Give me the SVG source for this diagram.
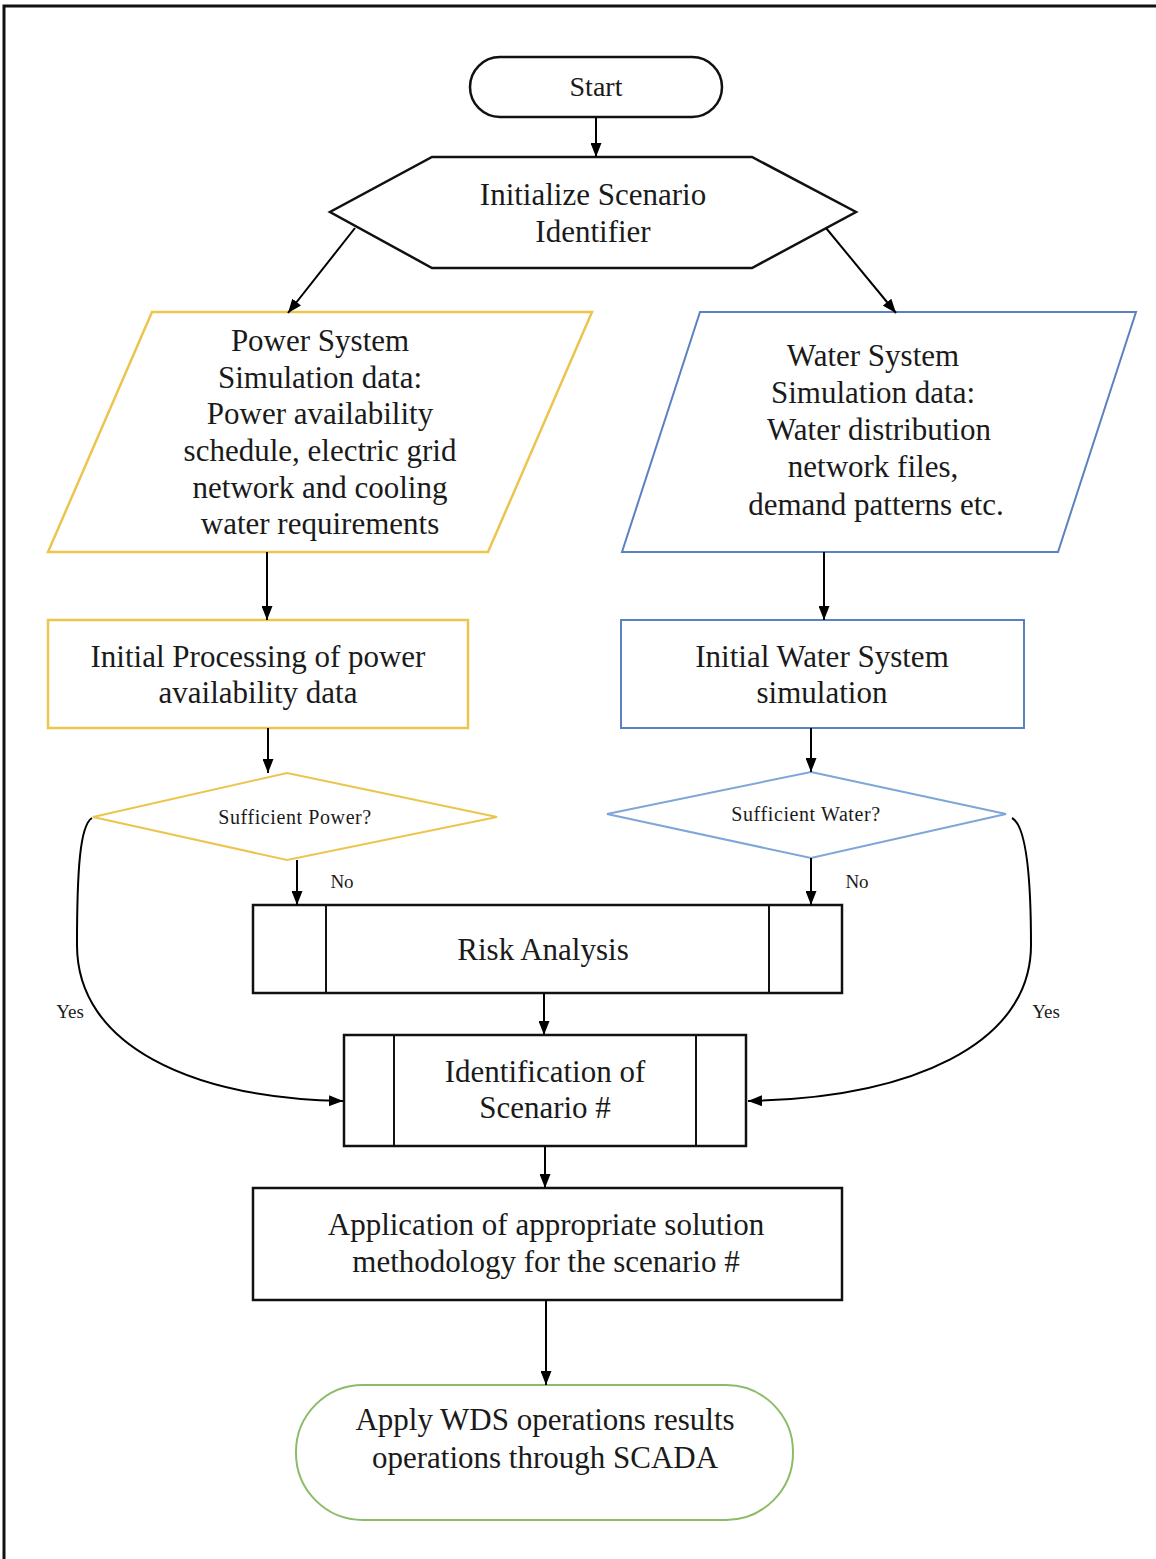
<svg xmlns="http://www.w3.org/2000/svg" width="1156" height="1559" viewBox="0 0 1156 1559">
  <defs>
    <marker id="arrow" viewBox="0 0 14 11" refX="14" refY="5.5" markerWidth="14" markerHeight="11" markerUnits="userSpaceOnUse" orient="auto">
      <path d="M0,0 L14,5.5 L0,11 Z" fill="#000"/>
    </marker>
    <style>
      text { font-family: "Liberation Serif", "Times New Roman", serif; fill: #1a1a1a; text-anchor: middle; }
      .t { font-size: 31px; }
      .s { font-size: 20px; letter-spacing: 0.6px; }
      .lbl { font-size: 19px; }
      .blk { fill: #fff; stroke: #111; stroke-width: 2.5; }
      .ylw { fill: #fff; stroke: #ECC54E; stroke-width: 2.5; }
      .blu { fill: #fff; stroke: #5B82C0; stroke-width: 2; }
      .grn { fill: #fff; stroke: #8DBB6A; stroke-width: 2; }
      .ylwd { fill: #fff; stroke: #ECC54E; stroke-width: 2; }
      .bluld { fill: #fff; stroke: #7FA6D8; stroke-width: 2; }
      .sub { stroke: #111; stroke-width: 2; }
      .edge { fill: none; stroke: #000; stroke-width: 2; marker-end: url(#arrow); }
    </style>
  </defs>

  <rect x="0" y="0" width="1156" height="1559" fill="#fff"/>
  <!-- page frame -->
  <path d="M4,1559 L4,6 L1156,6" fill="none" stroke="#111" stroke-width="3"/>

  <g id="start">
    <rect class="blk" x="470" y="57" width="252" height="60" rx="30"/>
    <text x="596" y="96" style="font-size:28px">Start</text>
  </g>

  <g id="init-scenario">
    <polygon class="blk" points="432,157 752,157 856,212 752,268 432,268 330,212"/>
    <text class="t" x="593" y="205">Initialize Scenario</text>
    <text class="t" x="593" y="242">Identifier</text>
  </g>

  <g id="power-data">
    <polygon class="ylw" points="152,312 592,312 488,552 48,552"/>
    <text class="t" x="320" y="351">Power System</text>
    <text class="t" x="320" y="388">Simulation data:</text>
    <text class="t" x="320" y="424">Power availability</text>
    <text class="t" x="320" y="461">schedule, electric grid</text>
    <text class="t" x="320" y="498">network and cooling</text>
    <text class="t" x="320" y="534">water requirements</text>
  </g>

  <g id="water-data">
    <polygon class="blu" points="700,312 1136,312 1058,552 622,552"/>
    <text class="t" x="873" y="366">Water System</text>
    <text class="t" x="873" y="403">Simulation data:</text>
    <text class="t" x="879" y="440">Water distribution</text>
    <text class="t" x="873" y="477">network files,</text>
    <text class="t" x="876" y="515">demand patterns etc.</text>
  </g>

  <g id="power-processing">
    <rect class="ylw" x="48" y="620" width="420" height="108"/>
    <text class="t" x="258" y="667">Initial Processing of power</text>
    <text class="t" x="258" y="703">availability data</text>
  </g>

  <g id="water-simulation">
    <rect class="blu" x="621" y="620" width="403" height="108"/>
    <text class="t" x="822" y="667">Initial Water System</text>
    <text class="t" x="822" y="703">simulation</text>
  </g>

  <g id="power-check">
    <polygon class="ylwd" points="287,773 497,817 287,860 93,817"/>
    <text class="s" x="295" y="824">Sufficient Power?</text>
  </g>

  <g id="water-check">
    <polygon class="bluld" points="811,772 1006,814 811,858 607,814"/>
    <text class="s" x="806" y="821">Sufficient Water?</text>
  </g>

  <g id="risk-analysis">
    <rect class="blk" x="253" y="905" width="589" height="88"/>
    <line class="sub" x1="326" y1="905" x2="326" y2="993"/>
    <line class="sub" x1="769" y1="905" x2="769" y2="993"/>
    <text class="t" x="543" y="960">Risk Analysis</text>
  </g>

  <g id="scenario-id">
    <rect class="blk" x="344" y="1035" width="402" height="111"/>
    <line class="sub" x1="394" y1="1035" x2="394" y2="1146"/>
    <line class="sub" x1="696" y1="1035" x2="696" y2="1146"/>
    <text class="t" x="545" y="1082">Identification of</text>
    <text class="t" x="545" y="1118">Scenario #</text>
  </g>

  <g id="solution-method">
    <rect class="blk" x="253" y="1188" width="589" height="112"/>
    <text class="t" x="546" y="1235">Application of appropriate solution</text>
    <text class="t" x="546" y="1272">methodology for the scenario #</text>
  </g>

  <g id="apply-scada">
    <rect class="grn" x="296" y="1385" width="497" height="135" rx="67"/>
    <text class="t" x="545" y="1430">Apply WDS operations results</text>
    <text class="t" x="545" y="1468">operations through SCADA</text>
  </g>

  <g id="connectors">
    <line class="edge" x1="596" y1="117" x2="596" y2="157"/>
    <line class="edge" x1="355" y1="228" x2="288" y2="313"/>
    <line class="edge" x1="826" y1="228" x2="896" y2="313"/>
    <line class="edge" x1="267" y1="552" x2="267" y2="620"/>
    <line class="edge" x1="824" y1="552" x2="824" y2="620"/>
    <line class="edge" x1="268" y1="728" x2="268" y2="773"/>
    <line class="edge" x1="811" y1="728" x2="811" y2="772"/>
    <line class="edge" x1="297" y1="860" x2="297" y2="905"/>
    <line class="edge" x1="811" y1="858" x2="811" y2="905"/>
    <line class="edge" x1="544" y1="993" x2="544" y2="1035"/>
    <line class="edge" x1="545" y1="1146" x2="545" y2="1188"/>
    <line class="edge" x1="546" y1="1300" x2="546" y2="1385"/>
    <path class="edge" d="M92,818 C80,825 77,870 77,945 C77,1045 190,1098 343,1101"/>
    <path class="edge" d="M1012,818 C1025,825 1031,870 1031,945 C1031,1045 910,1098 748,1101"/>
    <text class="lbl" x="342" y="888">No</text>
    <text class="lbl" x="857" y="888">No</text>
    <text class="lbl" x="70" y="1018">Yes</text>
    <text class="lbl" x="1046" y="1018">Yes</text>
  </g>
</svg>
